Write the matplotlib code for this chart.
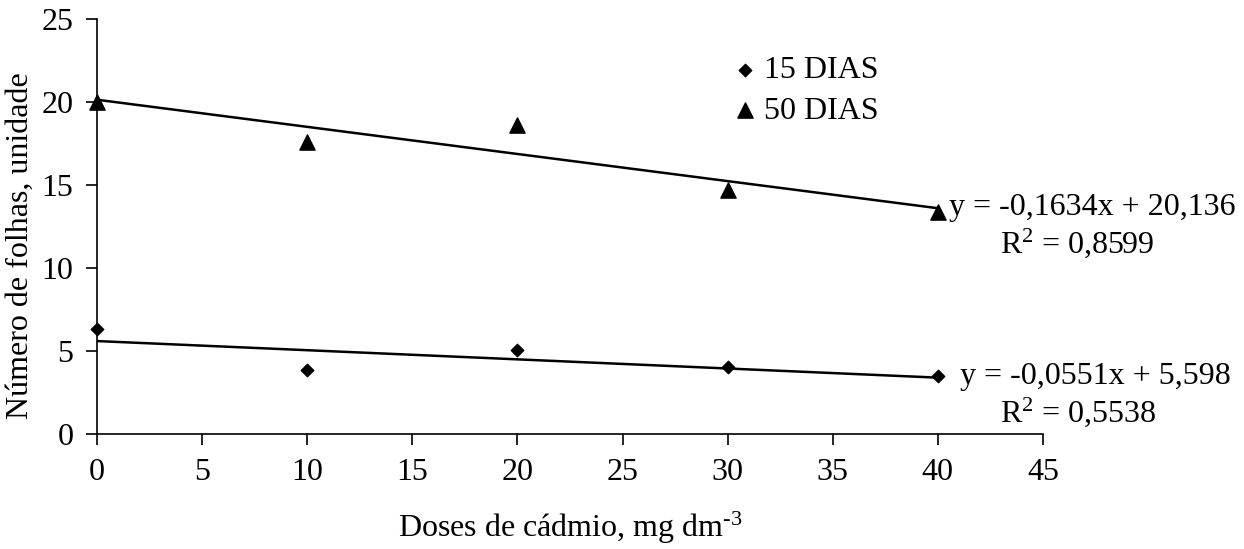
import matplotlib
matplotlib.use("Agg")
import matplotlib.pyplot as plt

plt.rcParams['font.family'] = ['Liberation Serif', 'DejaVu Serif']
plt.rcParams['mathtext.fontset'] = 'custom'
plt.rcParams['mathtext.rm'] = 'Liberation Serif'
plt.rcParams['mathtext.it'] = 'Liberation Serif'

doses = [0, 10, 20, 30, 40]
folhas_15 = [6.35, 3.85, 5.05, 4.05, 3.5]
folhas_50 = [20.0, 17.6, 18.6, 14.7, 13.35]

# trend lines as printed on the chart (slope, intercept)
fit_15 = (-0.0551, 5.598)
fit_50 = (-0.1634, 20.136)
eq_15 = ("y = -0,0551x + 5,598", "R$^2$ = 0,5538")
eq_50 = ("y = -0,1634x + 20,136", "R$^2$ = 0,8599")

FS = 23

fig = plt.figure(figsize=(12.44, 5.49), dpi=100)
ax = fig.add_axes([0.078, 0.2095, 0.7604, 0.7559])

x_line = [doses[0], doses[-1]]
ax.plot(x_line, [fit_15[1] + fit_15[0] * v for v in x_line], color='black', lw=1.8, zorder=2)
ax.plot(x_line, [fit_50[1] + fit_50[0] * v for v in x_line], color='black', lw=1.8, zorder=2)

ax.scatter(doses, folhas_15, marker='D', s=40, color='black', label='15 DIAS', clip_on=False, zorder=3)
ax.scatter(doses, folhas_50, marker='^', s=120, color='black', label='50 DIAS', clip_on=False, zorder=3)

ax.set_xlim(0, 45)
ax.set_ylim(0, 25)
ax.set_xticks(range(0, 46, 5))
ax.set_yticks(range(0, 26, 5))
for s in ['top', 'right']:
    ax.spines[s].set_visible(False)
for s in ['left', 'bottom']:
    ax.spines[s].set_linewidth(1.2)
ax.tick_params(direction='out', length=8, width=1.2, labelsize=FS, pad=9)

ax.set_xlabel('Doses de cádmio, mg dm$^{\\text{-3}}$', fontsize=FS, labelpad=17)
ax.set_ylabel('Número de folhas, unidade', fontsize=FS)
ax.yaxis.set_label_coords(-0.066, 0.455)

leg = ax.legend(loc='upper left', bbox_to_anchor=(0.651, 0.95), frameon=False,
                fontsize=FS, handlelength=1.0, handletextpad=0.1, labelspacing=0.35, borderpad=0)

ax.text(40.55, 13.67, eq_50[0], fontsize=FS, ha='left', va='center')
ax.text(42.95, 11.5, eq_50[1], fontsize=FS, ha='left', va='center')
ax.text(41.05, 3.49, eq_15[0], fontsize=FS, ha='left', va='center')
ax.text(42.95, 1.32, eq_15[1], fontsize=FS, ha='left', va='center')

fig.savefig('out.png', dpi=100)
